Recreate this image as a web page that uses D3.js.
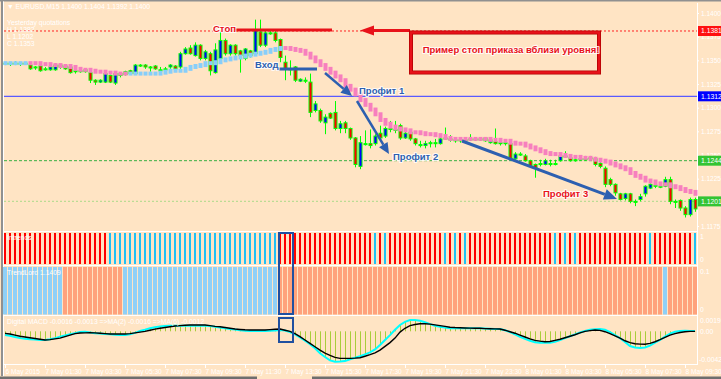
<!DOCTYPE html>
<meta charset="utf-8">
<style>
body { margin: 0; background: #ffe4c4; }
svg { display: block; background: #ffe4c4; font-family: "Liberation Sans", Arial, sans-serif; }
.lbl { fill: #fff; font-size: 6.8px; }
.note { font-weight: bold; font-size: 9.5px; paint-order: stroke; stroke: #fff; stroke-width: 2.2px; stroke-linejoin: round; stroke-opacity: 0.85; }
</style>
<svg width="721" height="379"></svg>
<script src="https://cdn.jsdelivr.net/npm/d3@7"></script>
<script>

// EURUSD M15, 6 May 23:30 .. 8 May 10:00 (139 bars)
var open = [1.1347,1.1347,1.1346,1.1347,1.1347,1.1345,1.1343,1.1344,1.1341,1.1340,
1.1340,1.1345,1.1344,1.1343,1.1339,1.1339,1.1340,1.1337,1.1329,1.1327,
1.1327,1.1334,1.1326,1.1336,1.1335,1.1339,1.1336,1.1344,1.1345,1.1343,
1.1344,1.1340,1.1340,1.1343,1.1344,1.1343,1.1357,1.1363,1.1355,1.1366,
1.1352,1.1357,1.1337,1.1352,1.1371,1.1357,1.1366,1.1360,1.1352,1.1360,
1.1357,1.1380,1.1366,1.1379,1.1379,1.1372,1.1348,1.1341,1.1343,1.1328,
1.1329,1.1327,1.1297,1.1297,1.1284,1.1294,1.1295,1.1278,1.1284,1.1278,
1.1268,1.1238,1.1262,1.1262,1.1262,1.1273,1.1270,1.1278,1.1277,1.1281,
1.1268,1.1274,1.1267,1.1261,1.1260,1.1263,1.1263,1.1262,1.1268,1.1267,
1.1266,1.1265,1.1266,1.1267,1.1267,1.1267,1.1268,1.1263,1.1264,1.1263,
1.1263,1.1262,1.1246,1.1251,1.1249,1.1244,1.1240,1.1241,1.1240,1.1241,
1.1241,1.1244,1.1249,1.1247,1.1245,1.1246,1.1246,1.1247,1.1246,1.1241,
1.1236,1.1224,1.1219,1.1209,1.1204,1.1209,1.1201,1.1203,1.1209,1.1215,
1.1218,1.1217,1.1217,1.1224,1.1201,1.1202,1.1194,1.1187,1.1203];

var high = [1.1348,1.1348,1.1349,1.1348,1.1348,1.1346,1.1344,1.1346,1.1343,1.1344,
1.1347,1.1346,1.1345,1.1344,1.1341,1.1341,1.1341,1.1338,1.1330,1.1330,
1.1337,1.1335,1.1337,1.1337,1.1339,1.1340,1.1346,1.1346,1.1346,1.1344,
1.1345,1.1343,1.1343,1.1346,1.1345,1.1359,1.1364,1.1366,1.1369,1.1367,
1.1361,1.1359,1.1368,1.1380,1.1373,1.1367,1.1367,1.1361,1.1363,1.1361,
1.1393,1.1393,1.1381,1.1381,1.1381,1.1373,1.1355,1.1350,1.1344,1.1331,
1.1332,1.1336,1.1307,1.1299,1.1293,1.1295,1.1307,1.1286,1.1286,1.1279,
1.1269,1.1270,1.1276,1.1277,1.1272,1.1281,1.1280,1.1286,1.1286,1.1283,
1.1276,1.1276,1.1268,1.1265,1.1265,1.1265,1.1267,1.1268,1.1279,1.1271,
1.1269,1.1268,1.1268,1.1272,1.1269,1.1269,1.1269,1.1267,1.1278,1.1265,
1.1265,1.1263,1.1253,1.1253,1.1251,1.1245,1.1241,1.1245,1.1246,1.1245,
1.1245,1.1251,1.1254,1.1248,1.1247,1.1249,1.1249,1.1249,1.1248,1.1244,
1.1238,1.1226,1.1220,1.1210,1.1210,1.1210,1.1203,1.1209,1.1218,1.1220,
1.1219,1.1219,1.1227,1.1227,1.1203,1.1203,1.1196,1.1205,1.1205];

var low = [1.1345,1.1344,1.1345,1.1344,1.1346,1.1340,1.1340,1.1338,1.1339,1.1339,
1.1339,1.1341,1.1340,1.1336,1.1336,1.1337,1.1337,1.1326,1.1324,1.1326,
1.1326,1.1326,1.1324,1.1332,1.1334,1.1335,1.1335,1.1343,1.1341,1.1338,
1.1340,1.1338,1.1339,1.1341,1.1340,1.1341,1.1356,1.1356,1.1354,1.1350,
1.1350,1.1334,1.1336,1.1351,1.1355,1.1355,1.1355,1.1337,1.1350,1.1353,
1.1355,1.1364,1.1364,1.1377,1.1369,1.1348,1.1329,1.1334,1.1327,1.1327,
1.1326,1.1290,1.1295,1.1284,1.1272,1.1288,1.1276,1.1273,1.1273,1.1266,
1.1237,1.1235,1.1260,1.1257,1.1260,1.1265,1.1268,1.1274,1.1273,1.1266,
1.1267,1.1265,1.1260,1.1258,1.1257,1.1258,1.1258,1.1261,1.1266,1.1264,
1.1263,1.1263,1.1264,1.1265,1.1265,1.1265,1.1264,1.1262,1.1261,1.1260,
1.1260,1.1244,1.1245,1.1249,1.1243,1.1237,1.1226,1.1238,1.1239,1.1238,
1.1239,1.1243,1.1247,1.1243,1.1243,1.1244,1.1244,1.1245,1.1238,1.1236,
1.1216,1.1217,1.1207,1.1202,1.1202,1.1199,1.1196,1.1201,1.1206,1.1214,
1.1215,1.1215,1.1216,1.1198,1.1194,1.1191,1.1184,1.1185,1.1190];

var close = [1.1347,1.1346,1.1347,1.1346,1.1347,1.1341,1.1343,1.1339,1.1341,1.1343,
1.1345,1.1343,1.1341,1.1337,1.1339,1.1339,1.1338,1.1329,1.1327,1.1329,
1.1336,1.1327,1.1336,1.1334,1.1338,1.1336,1.1345,1.1345,1.1343,1.1343,
1.1341,1.1340,1.1341,1.1345,1.1341,1.1357,1.1362,1.1357,1.1366,1.1352,
1.1359,1.1339,1.1361,1.1371,1.1357,1.1366,1.1357,1.1355,1.1362,1.1355,
1.1382,1.1366,1.1379,1.1379,1.1371,1.1353,1.1341,1.1341,1.1329,1.1330,
1.1329,1.1295,1.1304,1.1286,1.1290,1.1289,1.1278,1.1283,1.1278,1.1268,
1.1240,1.1263,1.1262,1.1260,1.1270,1.1268,1.1278,1.1278,1.1277,1.1268,
1.1273,1.1267,1.1262,1.1261,1.1262,1.1263,1.1263,1.1267,1.1268,1.1267,
1.1266,1.1266,1.1266,1.1267,1.1267,1.1267,1.1265,1.1266,1.1262,1.1262,
1.1262,1.1246,1.1251,1.1251,1.1244,1.1238,1.1236,1.1241,1.1244,1.1241,
1.1241,1.1249,1.1249,1.1244,1.1245,1.1246,1.1246,1.1246,1.1240,1.1238,
1.1219,1.1219,1.1210,1.1203,1.1209,1.1201,1.1201,1.1206,1.1217,1.1219,
1.1217,1.1217,1.1224,1.1201,1.1201,1.1194,1.1187,1.1203,1.1193];

// trailing dots: value per bar, side u = below price (blue), d = above price (pink)
var trail = [1.1347,1.1347,1.1347,1.1347,1.1347,
1.1347,1.1347,1.1346,1.1346,1.1345,1.1345,1.1344,1.1344,1.1343,1.1341,
1.1340,1.1340,1.1339,1.1338,1.1338,1.1337,1.1337,1.1336,1.1336,1.1336,
1.1336,1.1336,1.1336,1.1336,1.1336,1.1336,1.1337,1.1338,1.1339,1.1339,
1.1339,1.1341,1.1343,1.1344,1.1345,1.1347,1.1347,1.1348,1.1350,1.1351,
1.1352,1.1353,1.1354,1.1355,1.1356,1.1357,1.1358,1.1359,1.1361,1.1362,1.1363,
1.1363,1.1362,1.1361,1.1360,1.1357,1.1353,1.1349,1.1345,1.1341,1.1337,
1.1333,1.1329,1.1323,1.1319,1.1314,1.1308,1.1303,1.1298,1.1293,1.1287,
1.1283,1.1280,1.1278,1.1277,1.1276,1.1274,1.1274,1.1273,1.1272,1.1272,
1.1271,1.1270,1.1268,1.1267,1.1267,1.1267,1.1267,1.1267,1.1267,1.1267,
1.1267,1.1266,1.1266,1.1265,1.1265,1.1263,1.1262,1.1262,1.1260,1.1258,
1.1256,1.1254,1.1252,1.1251,1.1251,1.1250,1.1249,1.1248,1.1248,1.1247,
1.1247,1.1246,1.1245,1.1244,1.1243,1.1241,1.1239,1.1237,1.1235,1.1231,
1.1228,1.1226,1.1223,1.1222,1.1220,1.1219,1.1219,1.1217,1.1216,1.1214,
1.1212,1.1211,1.1209];
var trailSide = ("uuuuu" + "d".repeat(20) + "u".repeat(31) + "d".repeat(83)).split("");

// signal panel: r = red, b = blue
var signal = ("r".repeat(21) + "b".repeat(34) + "r".repeat(19) + "brb" + "r".repeat(11) +
  "brbrb" + "r".repeat(17) + "brbrb" + "r".repeat(14) + "b" + "r".repeat(8) + "b").split("");
// TrendLord panel: b = blue, s = salmon
var trendLord = ("b".repeat(12) + "s".repeat(12) + "b".repeat(31) + "s".repeat(77) + "b" + "s".repeat(6)).split("");

// Digital MACD (x 1e-4): histogram / cyan line, and black line
var macd = [-5,-6,-7.5,-9,-10,-10.5,-11,-11.5,-11.5,-10.5,
-9,-7,-5.5,-4,-2.5,-1,-0.5,-1.5,-2.5,-3,
-3.5,-4,-4.5,-5,-5,-4,-2,0.5,2,4,
5.5,6.5,7.2,7.5,7.5,7.5,7.4,7.4,7.4,7.4,
7.4,7,6.2,5.2,4.2,3.2,2.5,1.5,0.7,0.4,
0.4,0.4,0.4,0.8,1.2,1.7,1,-1,-4,-8,
-12.5,-17,-22.5,-29,-34,-38.5,-40.3,-40,-39.5,-37,
-35,-33,-30.5,-28,-24,-18,-11.5,-5,2,8.4,
12.5,15,15,14,12,9.5,7.5,6,5,4.2,
4,4,4,4,4,4,3.8,3.5,3.2,3,
1.5,-1,-4,-7.2,-10,-12.5,-14.5,-15.1,-15.3,-15,
-14,-11.5,-9,-6.5,-4,-1.5,0.5,2,2.7,3,
2,-1,-5,-9,-14,-19.5,-21.5,-22,-21.5,-19,
-15,-11.5,-7,-3,-0.5,0.5,0.8,0.5,0.3];
var macdSlow = [-2.7,-3.5,-5,-6.5,-7.5,-8.5,-9.5,-10.5,-11.5,-11,
-10,-9,-7,-5,-3,-2.3,-2,-1.9,-2,-2.5,
-3,-3.6,-3.6,-3.6,-3.6,-3,-2,-1,0,1.5,
3,4,5,6,7,7.5,8,8.4,8.4,8.4,
8.4,7.5,6.5,6,5,4,3,2.5,2,1.7,
1.7,1.7,1.7,2.2,2.8,3,1.5,0,-3,-7,
-11.5,-16,-20.4,-25,-29,-32,-34.5,-35.8,-35.8,-35.8,
-35.5,-35,-33,-31,-28.5,-25,-20,-15,-9,-1,
4,7.5,9,10,10.1,9.5,8.5,7.5,6.5,5.5,
5,4.8,4.5,4.2,4,4,3.6,3.4,3.2,3,
1.5,-0.5,-2.5,-5,-7.5,-10,-12,-13,-13.8,-13.5,
-12,-10.5,-8.5,-6.5,-4.5,-2,0,1,1.7,1.2,
-0.5,-3,-6,-9,-12.5,-15,-16.5,-17,-17.2,-16,
-13.8,-11,-8,-5,-3,-1.5,-0.5,0,0];

var timeLabels = ["6 May 2015","7 May 01:30","7 May 03:30","7 May 05:30","7 May 07:30","7 May 09:30",
  "7 May 11:30","7 May 13:30","7 May 15:30","7 May 17:30","7 May 19:30","7 May 21:30","7 May 23:30",
  "8 May 01:30","8 May 03:30","8 May 05:30","8 May 07:30","8 May 09:30"];
var priceTicks = [1.1400,1.1375,1.1350,1.1325,1.1300,1.1275,1.1250,1.1225,1.1175];
var levelPrices = [1.1381, 1.1312, 1.1244, 1.1201];

var svg = d3.select("svg"),
    left = 4, right = 697;

var x = d3.scaleLinear().domain([0, 138]).range([5, 695]),
    y = d3.scaleLinear().domain([1.1400, 1.1175]).range([13, 226]),
    yM = d3.scaleLinear().domain([-0.0042, 0.0019]).range([363, 317]);

var bars = d3.range(open.length);
function cx(i) { return Math.round(x(i)) + 0.5; }

// frame
svg.append("rect").attr("x", 0).attr("y", 0).attr("width", 721).attr("height", 1.5).attr("fill", "#909090");
svg.append("rect").attr("x", 1).attr("y", 0).attr("width", 2).attr("height", 376).attr("fill", "#909090");
svg.append("rect").attr("x", 3).attr("y", 1.5).attr("width", 1).attr("height", 375).attr("fill", "#fff");
svg.append("rect").attr("x", 0).attr("y", 376.5).attr("width", 257).attr("height", 2.5).attr("fill", "#6e6e6e");
svg.append("rect").attr("x", 312).attr("y", 376.5).attr("width", 409).attr("height", 2.5).attr("fill", "#6e6e6e");
[231.5, 265.5, 315.5, 364.5].forEach(function(v) {
  svg.append("line").attr("x1", left).attr("x2", right).attr("y1", v).attr("y2", v)
    .attr("stroke", "#fff").attr("stroke-width", 1.2);
});
svg.append("line").attr("x1", right + 0.5).attr("x2", right + 0.5).attr("y1", 3).attr("y2", 365)
  .attr("stroke", "#fff");

// level lines
var lv = svg.append("g");
lv.append("line").attr("x1", left).attr("x2", right).attr("y1", y(levelPrices[0])).attr("y2", y(levelPrices[0]))
  .attr("stroke", "#ff2020").attr("stroke-dasharray", "2,2");
lv.append("line").attr("x1", left).attr("x2", right).attr("y1", y(levelPrices[1])).attr("y2", y(levelPrices[1]))
  .attr("stroke", "#5a5aff").attr("stroke-width", 1.2);
lv.append("line").attr("x1", left).attr("x2", right).attr("y1", y(levelPrices[2])).attr("y2", y(levelPrices[2]))
  .attr("stroke", "#3cb043").attr("stroke-dasharray", "3,2");
lv.append("line").attr("x1", left).attr("x2", right).attr("y1", y(levelPrices[3])).attr("y2", y(levelPrices[3]))
  .attr("stroke", "#bcdc94").attr("stroke-width", 1.3).attr("stroke-dasharray", "2,2");

// candles
var cg = svg.append("g");
cg.selectAll("line").data(bars).enter().append("line")
  .attr("x1", cx).attr("x2", cx)
  .attr("y1", function(i) { return y(high[i]); })
  .attr("y2", function(i) { return y(low[i]); })
  .attr("stroke", "#00ff00");
cg.selectAll("rect").data(bars).enter().append("rect")
  .attr("x", function(i) { return cx(i) - 1.5; })
  .attr("width", 3)
  .attr("y", function(i) { return y(Math.max(open[i], close[i])); })
  .attr("height", function(i) { return Math.max(1, Math.abs(y(open[i]) - y(close[i]))); })
  .attr("fill", function(i) {
    if (Math.abs(y(open[i]) - y(close[i])) < 1.5) return "#00ff00";
    return close[i] > open[i] ? "#0000ff" : "#ff0000";
  })
  .attr("stroke", "#00ff00");

// trailing dots
svg.append("g").selectAll("rect").data(bars).enter().append("rect")
  .attr("x", function(i) { return cx(i) - 2; })
  .attr("width", 4)
  .attr("y", function(i) {
    var p = (i > 0 && trailSide[i - 1] === trailSide[i]) ? trail[i - 1] : trail[i];
    return Math.min(y(p), y(trail[i])) - 2;
  })
  .attr("height", function(i) {
    var p = (i > 0 && trailSide[i - 1] === trailSide[i]) ? trail[i - 1] : trail[i];
    return Math.abs(y(p) - y(trail[i])) + 4;
  })
  .attr("fill", function(i) { return trailSide[i] === "u" ? "#87cefa" : "#f77fbe"; });

// annotations
function arrow(g, x1, y1, x2, y2, color, w, hl, hw) {
  var a = Math.atan2(y2 - y1, x2 - x1), c = Math.cos(a), s = Math.sin(a);
  var bx = x2 - hl * c, by = y2 - hl * s;
  g.append("line").attr("x1", x1).attr("y1", y1).attr("x2", bx).attr("y2", by)
    .attr("stroke", color).attr("stroke-width", w);
  g.append("path").attr("fill", color)
    .attr("d", "M" + x2 + "," + y2 + "L" + (bx - hw * s) + "," + (by + hw * c) + "L" + (bx + hw * s) + "," + (by - hw * c) + "Z");
}
var an = svg.append("g");
var blue = "#2d5fb0", red = "#e8121a";
an.append("line").attr("x1", 235).attr("x2", 332).attr("y1", 30).attr("y2", 30).attr("stroke", red).attr("stroke-width", 3);
arrow(an, 410, 30.5, 360, 30.5, red, 3, 14, 5);
an.append("rect").attr("x", 411).attr("y", 32.5).attr("width", 188).attr("height", 40)
  .attr("fill", "none").attr("stroke", "#b00000").attr("stroke-width", 4);
an.append("rect").attr("x", 411).attr("y", 32.5).attr("width", 188).attr("height", 40)
  .attr("fill", "none").attr("stroke", red).attr("stroke-width", 2.5);
an.append("line").attr("x1", 277).attr("x2", 317).attr("y1", 69).attr("y2", 69).attr("stroke", blue).attr("stroke-width", 3);
arrow(an, 325, 73, 352, 96, blue, 2.5, 11, 5);
arrow(an, 357, 101, 389, 154, blue, 2.5, 11, 5);
arrow(an, 462, 141, 617, 199, blue, 3, 13, 5.5);

var notes = [
  {t: "Стоп", x: 213, y: 32, c: red, s: 9.5},
  {t: "Вход", x: 255, y: 68, c: blue, s: 9.5},
  {t: "Профит 1", x: 359, y: 94, c: blue, s: 9.5},
  {t: "Профит 2", x: 393, y: 160, c: blue, s: 9.5},
  {t: "Профит 3", x: 543, y: 197, c: red, s: 9.5},
  {t: "Пример стоп приказа вблизи уровня!", x: 511, y: 53, c: red, s: 8.4, a: "middle"}
];
an.selectAll("text").data(notes).enter().append("text")
  .attr("class", "note")
  .attr("x", function(d) { return d.x; })
  .attr("y", function(d) { return d.y; })
  .attr("font-size", function(d) { return d.s; })
  .attr("text-anchor", function(d) { return d.a || "start"; })
  .attr("fill", function(d) { return d.c; })
  .text(function(d) { return d.t; });

// info text
var info = ["\u25BC EURUSD,M15  1.1400 1.1404 1.1392 1.1400", "Yesterday quotations", "H 1.1382", "L 1.1202", "C 1.1353"];
var infoY = [9, 25, 32, 39, 46];
info.forEach(function(t, k) {
  svg.append("text").attr("class", "lbl").attr("font-size", 6.3).attr("x", 7).attr("y", infoY[k]).text(t);
});

// signal panel
var sig = svg.append("g");
sig.selectAll("rect").data(bars).enter().append("rect")
  .attr("x", function(i) { return Math.round(x(i)) - 1; })
  .attr("width", 2).attr("y", 233).attr("height", 31)
  .attr("fill", function(i) { return signal[i] === "r" ? "#ff0000" : "#1ec0f5"; });
sig.append("text").attr("class", "lbl").attr("x", 7).attr("y", 240).text("Intrends");

// TrendLord panel
var tl = svg.append("g");
tl.selectAll("rect").data(bars).enter().append("rect")
  .attr("x", function(i) { return Math.round(x(i)) - 2; })
  .attr("width", 4).attr("y", 267).attr("height", 47.5)
  .attr("fill", function(i) { return trendLord[i] === "b" ? "#8fd0f7" : "#ffa27c"; });
tl.append("text").attr("class", "lbl").attr("x", 7).attr("y", 275).text("TrendLord 1.1409");

// MACD panel
var mg = svg.append("g");
mg.selectAll("line").data(bars).enter().append("line")
  .attr("x1", cx).attr("x2", cx)
  .attr("y1", yM(0))
  .attr("y2", function(i) { return yM(macd[i] / 10000); })
  .attr("stroke", "#a8cd3a");
mg.append("path").datum(macd)
  .attr("fill", "none").attr("stroke", "#00ffff").attr("stroke-width", 2)
  .attr("d", d3.line().x(function(d, i) { return x(i); }).y(function(d) { return yM(d / 10000); }));
mg.append("path").datum(macdSlow)
  .attr("fill", "none").attr("stroke", "#000").attr("stroke-width", 1.4)
  .attr("d", d3.line().x(function(d, i) { return x(i); }).y(function(d) { return yM(d / 10000); }));
mg.append("text").attr("class", "lbl").attr("x", 7).attr("y", 324)
  .text("Digital MACD -0.0016 -0.0013  =>MA(2) -0.0016  =>MA(6) -0.0012");

// highlight boxes
svg.append("rect").attr("x", 279).attr("y", 233).attr("width", 14).attr("height", 81)
  .attr("fill", "none").attr("stroke", "#2050a0").attr("stroke-width", 2);
svg.append("rect").attr("x", 279).attr("y", 318).attr("width", 14).attr("height", 24)
  .attr("fill", "none").attr("stroke", "#2050a0").attr("stroke-width", 2);

// price axis
var ax = svg.append("g").attr("transform", "translate(" + right + ",0)")
  .call(d3.axisRight(y).tickValues(priceTicks).tickFormat(d3.format(".4f")).tickSize(2));
ax.select(".domain").remove();
ax.selectAll("line").attr("stroke", "#fff");
ax.selectAll("text").attr("fill", "#fff").attr("font-size", 6.5).attr("font-family", "Liberation Sans, Arial").attr("x", 4);

var levelColors = ["#ff1010", "#0000ff", "#33c433", "#33c433"];
levelPrices.forEach(function(p, k) {
  svg.append("rect").attr("x", 698).attr("y", y(p) - 5).attr("width", 23).attr("height", 10).attr("fill", levelColors[k]);
  svg.append("text").attr("class", "lbl").attr("font-size", 6.5).attr("x", 701).attr("y", y(p) + 2.5).text(p.toFixed(4));
});

// sub-panel scale labels
[["1", 239], ["0", 262], ["0.1", 274], ["0", 312], ["0.0019", 323], ["0.00", 334], ["-0.0042", 362]].forEach(function(d) {
  svg.append("text").attr("class", "lbl").attr("font-size", d[0].length > 6 ? 5.4 : 6.2)
    .attr("x", d[0].length > 6 ? 699 : 700).attr("y", d[1]).text(d[0]);
});

// time axis
var tx = svg.append("g").attr("transform", "translate(0,365)")
  .call(d3.axisBottom(x).tickValues(d3.range(0, 137, 8)).tickSize(3)
    .tickFormat(function(d, k) { return timeLabels[k]; }));
tx.select(".domain").remove();
tx.selectAll("line").attr("stroke", "#fff");
tx.selectAll("text").attr("fill", "#fff").attr("font-size", 6.6).attr("font-family", "Liberation Sans, Arial")
  .attr("text-anchor", "start").attr("dy", "0.5em").attr("x", 0);

</script>
